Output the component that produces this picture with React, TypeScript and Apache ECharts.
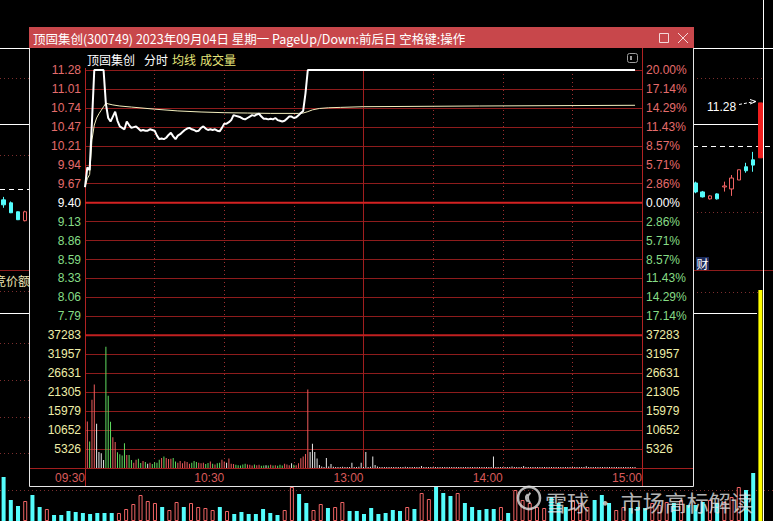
import React, { useEffect, useRef } from "react";
import * as echarts from "echarts";

// ---------- data ----------
const PREV_CLOSE = 9.4;
const LIMIT_UP = 11.28;
const VOL_MAX = 37283;
const timeTicks = ["09:30", "10:30", "13:00", "14:00", "15:00"];
const volTicks = ["5326", "10652", "15979", "21305", "26631", "31957", "37283"];

// minute closes, 09:30 (minute 0) .. 11:06 (minute 96)
const priceAM = [
  9.62, 9.9, 9.86, 10.55, 11.28, 11.28, 11.28, 11.28, 11.28, 10.8,
  10.6, 10.55, 10.62, 10.69, 10.56, 10.48, 10.46, 10.44, 10.55, 10.5,
  10.46, 10.47, 10.48, 10.45, 10.42, 10.43, 10.42, 10.42, 10.44, 10.43,
  10.42, 10.35, 10.3, 10.31, 10.3, 10.32, 10.36, 10.39, 10.34, 10.3,
  10.35, 10.37, 10.4, 10.43, 10.45, 10.46, 10.44, 10.43, 10.41, 10.42,
  10.46, 10.48, 10.45, 10.43, 10.44, 10.43, 10.44, 10.42, 10.41, 10.46,
  10.52, 10.52, 10.54, 10.57, 10.64, 10.63, 10.62, 10.61, 10.59, 10.58,
  10.6, 10.62, 10.64, 10.63, 10.65, 10.66, 10.62, 10.59, 10.59, 10.58,
  10.59, 10.58, 10.6, 10.57, 10.56, 10.55, 10.56, 10.59, 10.62, 10.62,
  10.6, 10.61, 10.64, 10.67, 10.7, 10.95, 11.28,
];
// the price then stays sealed at the limit until this minute
const limitHoldUntil = 237;

// average price line: [minute, price]
const avgPoints = [
  [0, 9.62], [1, 9.74], [2, 9.8], [3, 10.29], [4, 10.5], [5, 10.6], [6, 10.66],
  [7, 10.71], [8, 10.76], [9, 10.81], [10, 10.8], [12, 10.785], [15, 10.77],
  [20, 10.755], [30, 10.725], [40, 10.7], [50, 10.685], [60, 10.675], [70, 10.67],
  [80, 10.665], [92, 10.665], [94, 10.67], [96, 10.69], [98, 10.715], [101, 10.735],
  [105, 10.745], [110, 10.75], [120, 10.76], [170, 10.77], [237, 10.78],
];

// minute volumes, minute 1 .. minute 237
const minuteVol = [
  13080, 7430, 19200, 23440, 12430, 4520, 4140, 2260, 34080, 20330,
  12990, 8660, 7340, 4430, 3870, 3480, 6970, 3670, 3670, 2260,
  1500, 2300, 2600, 1400, 2000, 1700, 1200, 1500, 1100, 1600,
  1500, 2300, 2800, 3200, 2800, 2500, 2600, 2800, 1800, 1500,
  2000, 1300, 1900, 1700, 1200, 1500, 2000, 1700, 1500, 1300,
  1500, 1100, 1400, 1800, 1200, 1000, 1300, 1500, 2300, 1800,
  1500, 2700, 1200, 1100, 900, 800, 700, 1000, 1200, 1000,
  900, 700, 1000, 800, 900, 600, 700, 800, 700, 900,
  700, 800, 600, 900, 700, 1200, 1000, 800, 1300, 900,
  800, 1330, 2740, 3200, 3950, 22030, 4520, 6780, 4520, 2640,
  850, 400, 300, 2820, 400, 1130, 350, 300, 280, 300,
  320, 300, 280, 300, 1500, 300, 280, 350, 1500, 300,
  4520, 300, 350, 3200, 850, 400, 280, 300, 300, 250,
  280, 300, 280, 250, 300, 280, 300, 350, 300, 280,
  300, 280, 250, 300, 560, 300, 280, 250, 280, 300,
  280, 250, 300, 280, 300, 280, 250, 280, 300, 280,
  300, 280, 250, 300, 280, 300, 280, 250, 300, 280,
  300, 280, 250, 300, 280, 3200, 300, 280, 250, 300,
  280, 300, 280, 400, 300, 280, 250, 300, 560, 300,
  280, 300, 250, 280, 300, 280, 250, 300, 280, 300,
  280, 300, 250, 280, 300, 280, 250, 300, 280, 300,
  280, 250, 300, 280, 300, 500, 280, 250, 300, 280,
  300, 280, 250, 300, 280, 300, 280, 250, 300, 280,
  300, 280, 250, 300, 280, 300, 280,
];

// background daily K-line (only the visible candles): [open, close, low, high]
const DAILY_COUNT = 106;
const dailyLeftStart = 0;
const dailyLeft = [
  [8.35, 8.2, 8.11, 8.44],
  [8.26, 7.96, 7.95, 8.3],
  [7.99, 7.75, 7.74, 8.0],
  [7.72, 7.99, 7.7, 8.02],
];
const dailyRightStart = 96;
const dailyRight = [
  [8.86, 8.59, 8.55, 8.9],
  [8.59, 8.44, 8.42, 8.62],
  [8.38, 8.47, 8.36, 8.49],
  [8.53, 8.38, 8.36, 8.55],
  [8.74, 8.77, 8.6, 8.9],
  [8.68, 9.01, 8.47, 9.1],
  [8.95, 9.26, 8.95, 9.26],
  [9.35, 9.23, 9.17, 9.47],
  [9.56, 9.4, 9.2, 9.8],
  [9.62, 11.28, 9.62, 11.28],
];
// background daily volume (relative units) and direction u/d, t = today
const dailyVol = [
  44, 21, 15, 20, 26, 14, 12, 6, 6, 10, 9, 8, 7, 8, 8, 8, 8, 12, 17, 26,
  20, 18, 14, 11, 19, 14, 18, 14, 13, 11, 14, 10, 7, 9, 7, 7, 12, 8, 6, 11,
  34, 27, 18, 11, 17, 13, 14, 19, 10, 10, 7, 13, 7, 8, 11, 10, 14, 12, 28, 22,
  34, 28, 25, 28, 18, 14, 11, 12, 12, 14, 8, 31, 21, 18, 14, 13, 24, 18, 14, 21,
  18, 14, 21, 26, 18, 11, 14, 13, 14, 13, 18, 16, 19, 18, 21, 16, 16, 19, 21, 18,
  19, 24, 34, 31, 48, 231,
];
const dailyDir = [
  "dddudduddd", // 0-9
  "dddddduuuu", // 10-19
  "uuduuduuuu", // 20-29
  "dudddddddu", // 30-39
  "udduuduudd", // 40-49
  "dddddduduu", // 50-59
  "dddudddddu", // 60-69
  "duuuuudddu", // 70-79
  "uuddduuddd", // 80-89
  "uuududddud", // 90-99
  "uuuddt", // 100-105
].join("");

// ---------- geometry / styles ----------
const W = 773;
const H = 521;
const PL = 85;
const PR = 642;
const PT = 70;
const PB = 468;
const PW = PR - PL;
const ROW = (PB - PT) / 21;
const VOL_TOP = PT + 14 * ROW;
const STEP = (LIMIT_UP - PREV_CLOSE) / 7;
const SESSION_MIN = 240;

const RED_TXT = "#e46c6c";
const GRN_TXT = "#86dc86";
const YEL_TXT = "#eeeea8";
const GRID_RED = "#8e1c1c";
const FRAME_RED = "#b02222";
const DOT_BG = "#7c2e2e";
const UP = "#f06464";
const DOWN = "#54fcfc";
const LAT = '"Liberation Sans", Arial, sans-serif';
const CJK = '"Noto Sans CJK SC", sans-serif';

const line = (x1: number, y1: number, x2: number, y2: number, stroke: string, o: any = {}) => ({
  type: "line",
  silent: true,
  z: o.z ?? 1,
  shape: { x1, y1, x2, y2 },
  style: { stroke, lineWidth: o.w ?? 1, lineDash: o.dash },
});
const text = (x: number, y: number, t: string, fill: string, o: any = {}) => ({
  type: "text",
  silent: true,
  z: o.z ?? 1,
  x,
  y,
  style: {
    text: t,
    fill,
    fontSize: o.size ?? 12,
    fontFamily: o.family ?? CJK,
    fontWeight: o.weight ?? "normal",
    align: o.align ?? "left",
    verticalAlign: "middle",
    textAlign: o.align ?? "left",
    textVerticalAlign: "middle",
  },
});

function priceColor(v: any) {
  const n = parseFloat(v);
  if (Math.abs(n - PREV_CLOSE) < 1e-6) return "#ffffff";
  return n > PREV_CLOSE ? RED_TXT : GRN_TXT;
}

function buildOption() {
  const priceLine = priceAM.map((p, i) => [i, p]);
  priceLine.push([limitHoldUntil, LIMIT_UP]);

  const priceAt = (m: number) => (m < priceAM.length ? priceAM[m] : LIMIT_UP);
  const volData = minuteVol.map((v, i) => {
    const m = i + 1;
    const d = priceAt(m) - priceAt(m - 1);
    const c = Math.abs(d) < 1e-9 ? "#e8e8e8" : d > 0 ? "#ee5c5c" : "#5fdc5f";
    return { value: [m, v], itemStyle: { color: c } };
  });

  const candles: any[] = [];
  for (let i = 0; i < DAILY_COUNT; i++) candles.push(["-", "-", "-", "-"]);
  dailyLeft.forEach((c, i) => (candles[dailyLeftStart + i] = c));
  dailyRight.forEach((c, i) => (candles[dailyRightStart + i] = c));
  const last = DAILY_COUNT - 1;
  candles[last] = { value: candles[last], itemStyle: { color: "#f01e1e", borderColor: "#f01e1e" } };

  const dVol = dailyVol.map((v, i) => {
    const d = dailyDir[i];
    const itemStyle =
      d === "t"
        ? { color: "#ffff00" }
        : d === "u"
        ? { color: "rgba(0,0,0,0)", borderColor: UP, borderWidth: 1 }
        : { color: DOWN };
    return { value: v, itemStyle };
  });
  const cats = dailyVol.map((_, i) => String(i));

  const bg: any[] = [
    // left strip of the background window
    line(0, 48.5, 29, 48.5, "#ffffff"),
    line(0, 78.5, 29, 78.5, DOT_BG, { dash: [1, 3] }),
    line(0, 124.5, 29, 124.5, "#ffffff"),
    line(0, 155.5, 29, 155.5, DOT_BG, { dash: [1, 3] }),
    line(0, 189.5, 29, 189.5, "#ffffff", { dash: [5, 4] }),
    line(0, 270.5, 29, 270.5, GRID_RED),
    text(-6, 280, "竞价额:", "#ece4b4"),
    line(0, 291.5, 29, 291.5, DOT_BG, { dash: [1, 3] }),
    line(0, 313.5, 29, 313.5, "#ffffff"),
    line(0, 343.5, 29, 343.5, DOT_BG, { dash: [1, 3] }),
    line(0, 380.5, 29, 380.5, DOT_BG, { dash: [1, 3] }),
    line(0, 417.5, 29, 417.5, DOT_BG, { dash: [1, 3] }),
    line(0, 453.5, 29, 453.5, DOT_BG, { dash: [1, 3] }),
    line(0, 490.5, W, 490.5, DOT_BG, { dash: [1, 3], z: 0 }),
    // right strip
    line(693, 48.5, W, 48.5, "#ffffff"),
    line(693, 78.5, 763, 78.5, DOT_BG, { dash: [1, 3] }),
    line(693, 124.5, 763, 124.5, "#ffffff"),
    line(693, 146.5, W, 146.5, "#ffffff", { dash: [5, 4] }),
    line(693, 212.5, 763, 212.5, DOT_BG, { dash: [1, 3] }),
    line(693, 270.5, W, 270.5, GRID_RED),
    line(693, 292.5, 763, 292.5, DOT_BG, { dash: [1, 3] }),
    line(693, 313.5, 757, 313.5, "#ffffff"),
    line(763.5, 0, 763.5, H, "#ffffff"),
    text(707, 107, "11.28", "#ffffff", { family: LAT }),
    line(739, 104.5, 755, 101.5, "#ffffff", { dash: [3, 2] }),
    line(750, 99.5, 756, 101.5, "#ffffff"),
    line(750, 104, 756, 101.5, "#ffffff"),
    {
      type: "rect",
      silent: true,
      z: 1,
      shape: { x: 696, y: 257, width: 13, height: 13 },
      style: { fill: "#1b2a5a" },
    },
    text(702.5, 263.5, "财", "#ffffff", { align: "center" }),
  ];

  const win: any[] = [
    {
      type: "rect",
      silent: true,
      z: 5,
      shape: { x: 29.5, y: 27.5, width: 664, height: 459 },
      style: { fill: "#000000", stroke: "#e6e6e6", lineWidth: 1 },
    },
    {
      type: "rect",
      silent: true,
      z: 6,
      shape: { x: 29, y: 27, width: 665, height: 21 },
      style: { fill: "#c8474b" },
    },
    text(33, 38, "顶固集创(300749) 2023年09月04日 星期一 PageUp/Down:前后日 空格键:操作", "#ffffff", {
      z: 7,
      size: 12.5,
    }),
    {
      type: "rect",
      silent: true,
      z: 7,
      shape: { x: 659.5, y: 33.5, width: 9, height: 9 },
      style: { fill: "none", stroke: "#f4d8d8", lineWidth: 1 },
    },
    line(678, 33, 688, 43, "#f4d8d8", { z: 7 }),
    line(688, 33, 678, 43, "#f4d8d8", { z: 7 }),
    text(87, 59, "顶固集创", "#ffffff", { z: 7 }),
    text(144, 59, "分时", "#ffffff", { z: 7 }),
    text(172, 59, "均线", "#e6e67a", { z: 7 }),
    text(200, 59, "成交量", "#e6e67a", { z: 7 }),
    {
      type: "rect",
      silent: true,
      z: 7,
      shape: { x: 627.5, y: 53.5, width: 10, height: 9, r: 2 },
      style: { fill: "none", stroke: "#9c9c9c", lineWidth: 1 },
    },
    {
      type: "rect",
      silent: true,
      z: 7,
      shape: { x: 630, y: 56, width: 2, height: 4 },
      style: { fill: "#9c9c9c" },
    },
    // frame lines of the intraday chart
    line(PL + 0.5, 68, PL + 0.5, 486, FRAME_RED, { z: 11 }),
    line(PR + 0.5, 48, PR + 0.5, 486, FRAME_RED, { z: 11 }),
    line(PL + PW / 2, PT, PL + PW / 2, PB, "#a01e1e", { z: 11 }),
    line(PL, PT + 7 * ROW, PR, PT + 7 * ROW, "#d42222", { z: 11, w: 2 }),
    line(PL, VOL_TOP, PR, VOL_TOP, "#c02020", { z: 11, w: 2 }),
    line(30, PB + 0.5, 693, PB + 0.5, "#a01e1e", { z: 11 }),
  ];

  const WM = "rgba(228,228,228,0.8)";
  const wm: any[] = [
    {
      type: "circle",
      silent: true,
      z: 30,
      shape: { cx: 529, cy: 498, r: 11 },
      style: { fill: "none", stroke: WM, lineWidth: 2.5 },
    },
    {
      type: "arc",
      silent: true,
      z: 30,
      shape: { cx: 535, cy: 498, r: 7, startAngle: 2.3, endAngle: 4.0 },
      style: { fill: "none", stroke: WM, lineWidth: 2 },
    },
    {
      type: "arc",
      silent: true,
      z: 30,
      shape: { cx: 531, cy: 498, r: 5, startAngle: 2.3, endAngle: 4.0 },
      style: { fill: "none", stroke: WM, lineWidth: 2 },
    },
    text(545, 501, "雪球 · 市场高标解读", WM, { z: 30, size: 22 }),
  ];

  const yLabel = { fontFamily: LAT, fontSize: 12, margin: 4 };

  return {
    animation: false,
    backgroundColor: "#000000",
    grid: [
      { left: -1, top: 48, width: 765, height: 222 },
      { left: -1, top: 270, width: 765, height: 251 },
      { left: PL, top: PT, width: PW, height: PB - PT },
      { left: PL, top: PT, width: PW, height: 13 * ROW },
      { left: PL, top: VOL_TOP, width: PW, height: 7 * ROW },
    ],
    xAxis: [
      { type: "category", gridIndex: 0, data: cats, show: false },
      { type: "category", gridIndex: 1, data: cats, show: false },
      {
        type: "value",
        gridIndex: 2,
        min: 0,
        max: SESSION_MIN,
        interval: 30,
        z: 10,
        axisLine: { show: false },
        axisTick: { show: false },
        splitLine: { show: true, lineStyle: { color: "#a03030", type: [1, 3], width: 1 } },
        axisLabel: {
          show: true,
          margin: 4,
          align: "right",
          color: "#d85a5a",
          fontFamily: LAT,
          fontSize: 12,
          formatter: (v: number) => (v % 60 === 0 ? timeTicks[v / 60] : ""),
        },
      },
      { type: "value", gridIndex: 3, min: 0, max: SESSION_MIN, show: false },
      { type: "value", gridIndex: 4, min: 0, max: SESSION_MIN, show: false },
    ],
    yAxis: [
      { type: "value", gridIndex: 0, min: 6.23, max: 12.94, show: false },
      { type: "value", gridIndex: 1, min: 0, max: 251, show: false },
      {
        type: "value",
        gridIndex: 2,
        min: 0,
        max: 21,
        interval: 1,
        z: 10,
        axisLine: { show: false },
        axisTick: { show: false },
        axisLabel: { show: false },
        splitLine: { show: true, lineStyle: { color: GRID_RED, width: 1 } },
      },
      {
        type: "value",
        gridIndex: 3,
        position: "left",
        min: PREV_CLOSE - 6 * STEP,
        max: LIMIT_UP,
        interval: STEP,
        z: 10,
        axisLine: { show: false },
        axisTick: { show: false },
        splitLine: { show: false },
        axisLabel: { ...yLabel, color: priceColor, formatter: (v: number) => v.toFixed(2) },
      },
      {
        type: "value",
        gridIndex: 3,
        position: "right",
        min: PREV_CLOSE - 6 * STEP,
        max: LIMIT_UP,
        interval: STEP,
        z: 10,
        axisLine: { show: false },
        axisTick: { show: false },
        splitLine: { show: false },
        axisLabel: {
          ...yLabel,
          color: priceColor,
          formatter: (v: number) => ((Math.abs(v - PREV_CLOSE) / PREV_CLOSE) * 100).toFixed(2) + "%",
        },
      },
      {
        type: "value",
        gridIndex: 4,
        position: "left",
        min: 0,
        max: VOL_MAX,
        interval: VOL_MAX / 7,
        z: 10,
        axisLine: { show: false },
        axisTick: { show: false },
        splitLine: { show: false },
        axisLabel: {
          ...yLabel,
          color: YEL_TXT,
          formatter: (_v: number, i: number) => (i === 0 ? "" : volTicks[i - 1] ?? ""),
        },
      },
      {
        type: "value",
        gridIndex: 4,
        position: "right",
        min: 0,
        max: VOL_MAX,
        interval: VOL_MAX / 7,
        z: 10,
        axisLine: { show: false },
        axisTick: { show: false },
        splitLine: { show: false },
        axisLabel: {
          ...yLabel,
          color: YEL_TXT,
          formatter: (_v: number, i: number) => (i === 0 ? "" : volTicks[i - 1] ?? ""),
        },
      },
    ],
    series: [
      {
        type: "candlestick",
        xAxisIndex: 0,
        yAxisIndex: 0,
        z: 1,
        barWidth: 4,
        data: candles,
        itemStyle: {
          color: "rgba(0,0,0,0)",
          color0: DOWN,
          borderColor: UP,
          borderColor0: DOWN,
          borderWidth: 1,
        },
      },
      {
        type: "bar",
        xAxisIndex: 1,
        yAxisIndex: 1,
        z: 1,
        barWidth: 4,
        data: dVol,
      },
      {
        type: "bar",
        xAxisIndex: 4,
        yAxisIndex: 5,
        z: 12,
        barWidth: 1,
        data: volData,
      },
      {
        type: "line",
        xAxisIndex: 3,
        yAxisIndex: 3,
        z: 12,
        symbol: "none",
        data: avgPoints,
        lineStyle: { color: "#f3efbe", width: 1 },
      },
      {
        type: "line",
        xAxisIndex: 3,
        yAxisIndex: 3,
        z: 13,
        symbol: "none",
        data: priceLine,
        lineStyle: { color: "#ffffff", width: 2 },
      },
    ],
    graphic: { elements: [...bg, ...win, ...wm] },
  };
}

export default function App() {
  const ref = useRef<HTMLDivElement>(null);
  useEffect(() => {
    const chart = echarts.init(ref.current as HTMLDivElement, undefined, { renderer: "svg" });
    chart.setOption(buildOption() as any);
    return () => chart.dispose();
  }, []);
  return (
    <div
      ref={ref}
      style={{ position: "fixed", left: 0, top: 0, width: W, height: H, background: "#000" }}
    />
  );
}
